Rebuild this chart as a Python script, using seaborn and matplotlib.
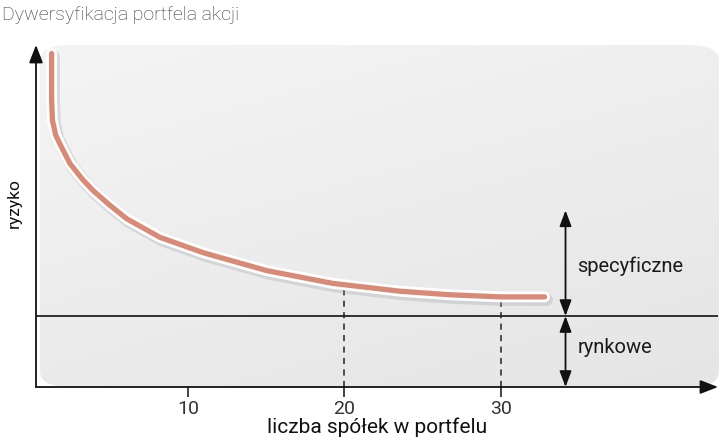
import numpy as np
import matplotlib
matplotlib.use("Agg")
import matplotlib.pyplot as plt
import matplotlib.patheffects as pe
from matplotlib.patches import FancyBboxPatch
import seaborn as sns
import pandas as pd

# values (risk in units of market risk)
n_stocks = [1.29, 1.29, 1.34, 1.55, 1.90, 2.46, 3.29, 3.93, 5.02, 6.10, 8.21,
            11.02, 15.05, 19.27, 23.55, 26.74, 29.99, 32.81]
risk = [4.70, 4.04, 3.76, 3.55, 3.39, 3.15, 2.92, 2.77, 2.56, 2.37, 2.11,
        1.89, 1.64, 1.46, 1.35, 1.30, 1.27, 1.27]
market_risk = 1.0
xticks = [10, 20, 30]
marked = [20, 30]
marked_risk = [1.44, 1.27]
arrow_x = 34.15
specific_top = 2.49

title = "Dywersyfikacja portfela akcji"
xlabel = "liczba spółek w portfelu"
ylabel = "ryzyko"
lab_spec = "specyficzne"
lab_mkt = "rynkowe"

sns.set_theme(style="white")
plt.rcParams["font.family"] = ["Roboto", "DejaVu Sans"]

W, H = 720, 448
fig = plt.figure(figsize=(W / 100, H / 100), dpi=100)
ax = fig.add_axes([36 / W, (H - 387) / H, (718 - 36) / W, (387 - 45) / H])
xmin, xmax = 0.29, 43.9
ymin, ymax = 0, 4.82
ax.set_xlim(xmin, xmax)
ax.set_ylim(ymin, ymax)
ax.set_facecolor("none")
for s in ax.spines.values():
    s.set_visible(False)

# gray panel with gradient and rounded top-right corner
gy, gx = np.mgrid[0:1:100j, 0:1:100j]
grad = 0.955 - 0.06 * (0.65 * gy + 0.35 * gx)
bg = fig.add_axes([40 / W, (H - 387) / H, (719 - 40) / W, (387 - 45) / H], zorder=-1)
bg.imshow(grad, cmap="gray", vmin=0, vmax=1, aspect="auto", extent=(0, 1, 0, 1),
          origin="upper")
bg.axis("off")
im = bg.images[0]
panel = FancyBboxPatch((0, 0), 1, 1, boxstyle="round,pad=0,rounding_size=0.045",
                       transform=bg.transAxes, facecolor="none", edgecolor="none")
bg.add_patch(panel)
im.set_clip_path(panel)

# market risk line
ax.axhline(market_risk, color="#222222", lw=1.3, zorder=2)

# dashed guides
for xv, yv in zip(marked, marked_risk):
    ax.plot([xv, xv], [0, yv], color="#222222", lw=1.1, ls=(0, (4, 3.5)), zorder=2)

# curve
df = pd.DataFrame({"n": n_stocks, "r": risk})
sns.lineplot(data=df, x="n", y="r", ax=ax, sort=False, estimator=None,
             color="#d98a76", lw=3.8,
             solid_capstyle="round", solid_joinstyle="round", zorder=4,
             path_effects=[pe.SimpleLineShadow(offset=(1.5, -2), shadow_color="#9aa0a6",
                                               alpha=0.3, linewidth=9),
                           pe.Stroke(linewidth=7.8, foreground="white"),
                           pe.Normal()])

# axes arrows
ax.annotate("", xy=(xmin, ymax), xytext=(xmin, 0), annotation_clip=False,
            arrowprops=dict(arrowstyle="-|>,head_length=0.9,head_width=0.35",
                            color="#111111", lw=1.3, shrinkA=0, shrinkB=0))
ax.annotate("", xy=(xmax, 0), xytext=(xmin, 0), annotation_clip=False,
            arrowprops=dict(arrowstyle="-|>,head_length=0.9,head_width=0.35",
                            color="#111111", lw=1.3, shrinkA=0, shrinkB=0))

# double arrows on right
for y0, y1 in [(market_risk, specific_top), (0, market_risk)]:
    ax.annotate("", xy=(arrow_x, y1), xytext=(arrow_x, y0), annotation_clip=False,
                arrowprops=dict(arrowstyle="<|-|>,head_length=0.8,head_width=0.3",
                                color="#111111", lw=1.3, shrinkA=0, shrinkB=0))
ax.text(arrow_x + 0.75, (market_risk + specific_top) / 2 - 0.05, lab_spec,
        fontsize=14.5, color="#1a1a1a", va="center", ha="left")
ax.text(arrow_x + 0.75, market_risk / 2 + 0.06, lab_mkt,
        fontsize=14.5, color="#1a1a1a", va="center", ha="left")

# ticks
ax.set_xticks(xticks)
ax.set_xticklabels([str(t) for t in xticks], fontsize=14, color="#333333")
ax.tick_params(axis="x", direction="out", length=7, width=1.2, color="#222222",
               pad=2, bottom=True)
ax.set_yticks([])
ax.set_xlabel(xlabel, fontsize=15, color="#111111", labelpad=0)
ax.set_ylabel("")
fig.text(14 / W, 1 - 203 / H, ylabel, rotation=90, fontsize=12.5, color="#111111",
         ha="center", va="center")
fig.text(2 / W, 1 - 15 / H, title, fontsize=14, color="#333333", fontweight="light",
         ha="left", va="center")

fig.savefig("out.png", dpi=100)
